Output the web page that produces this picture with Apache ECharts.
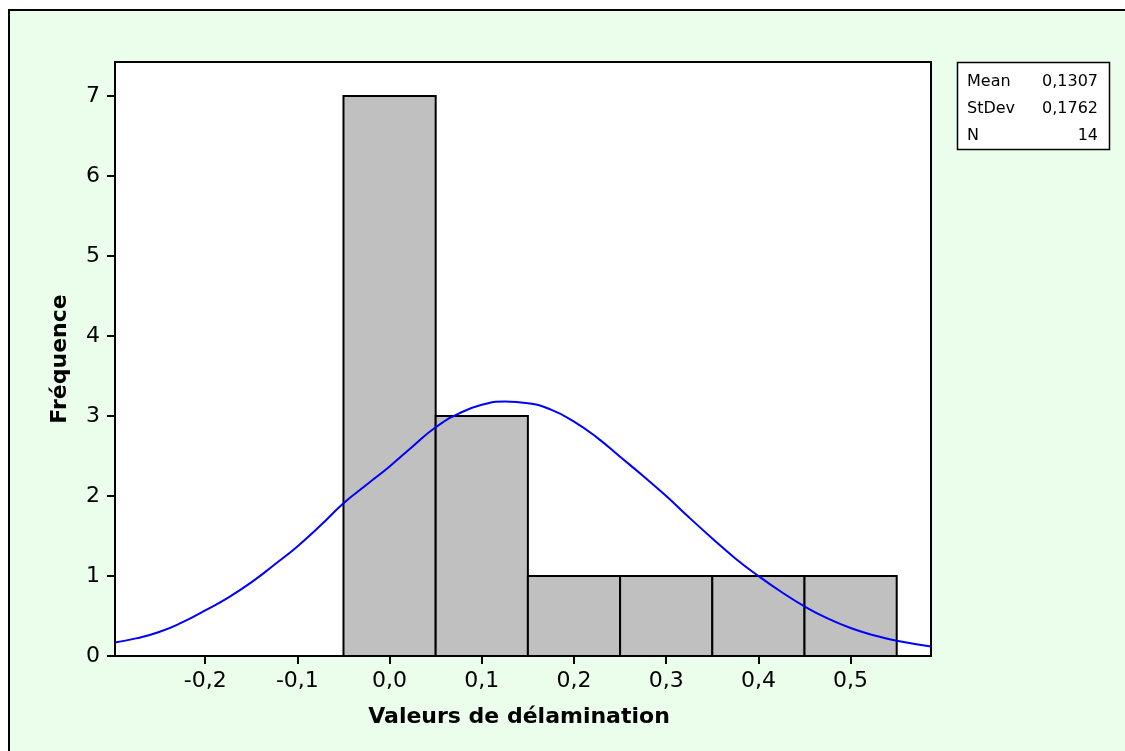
<!DOCTYPE html>
<html>
<head>
<meta charset="utf-8">
<script src="https://cdn.jsdelivr.net/npm/echarts@6/dist/echarts.min.js"></script>
<style>
html,body{margin:0;padding:0;background:#fff;}
#chart{width:1125px;height:751px;}
</style>
</head>
<body>
<div id="chart"></div>
<script>
// Histogram bins (start, end) and counts
const binStarts = [-0.05, 0.05, 0.15, 0.25, 0.35, 0.45];
const binEnds   = [ 0.05, 0.15, 0.25, 0.35, 0.45, 0.55];
const counts    = [7, 3, 1, 1, 1, 1];

// Fitted normal curve
const curveX = [-0.298, -0.275, -0.25, -0.225, -0.2, -0.175, -0.15, -0.125, -0.1, -0.075, -0.05, -0.025, 0, 0.025, 0.05, 0.075, 0.1, 0.125, 0.15, 0.175, 0.2, 0.225, 0.25, 0.275, 0.3, 0.325, 0.35, 0.375, 0.4, 0.425, 0.45, 0.475, 0.5, 0.525, 0.55, 0.587];
const curveY = [0.17, 0.22, 0.30, 0.42, 0.57, 0.73, 0.92, 1.14, 1.37, 1.63, 1.91, 2.14, 2.37, 2.62, 2.86, 3.03, 3.14, 3.18, 3.16, 3.08, 2.93, 2.73, 2.49, 2.25, 2.00, 1.73, 1.47, 1.22, 1.00, 0.80, 0.62, 0.47, 0.35, 0.26, 0.19, 0.12];

const xTicks = [-0.2, -0.1, 0, 0.1, 0.2, 0.3, 0.4, 0.5];
const yTicks = [0, 1, 2, 3, 4, 5, 6, 7];

const statLabels = ['Mean', 'StDev', 'N'];
const statValues = ['0,1307', '0,1762', '14'];

const FONT = 'DejaVu Sans';
const fmt = v => (Math.abs(v) < 1e-9 ? '0,0' : v.toFixed(1).replace('.', ','));

const chart = echarts.init(document.getElementById('chart'));

const graphics = [
  { type: 'rect', z: -10, shape: { x: 9, y: 10, width: 1130, height: 760 },
    style: { fill: '#EBFDEB', stroke: '#000', lineWidth: 2 } },
  { type: 'rect', z: 10, shape: { x: 957.5, y: 62.5, width: 152, height: 87 },
    style: { fill: '#fff', stroke: '#000', lineWidth: 1.5 } }
];
statLabels.forEach((l, i) => {
  graphics.push({ type: 'text', z: 11, x: 967, y: 82 + i * 27,
    style: { text: l, font: '16px ' + FONT, fill: '#000', textVerticalAlign: 'middle', textAlign: 'left' } });
  graphics.push({ type: 'text', z: 11, x: 1098, y: 82 + i * 27,
    style: { text: statValues[i], font: '16px ' + FONT, fill: '#000', textVerticalAlign: 'middle', textAlign: 'right' } });
});

const barData = binStarts.map((s, i) => [s, binEnds[i], counts[i]]);
const curveData = curveX.map((x, i) => [x, curveY[i]]);

chart.setOption({
  animation: false,
  graphic: graphics,
  grid: { left: 115, top: 62, width: 816, height: 594, show: true, backgroundColor: '#fff', borderColor: '#000', borderWidth: 2 },
  xAxis: {
    type: 'value', min: -0.2978, max: 0.5872,
    axisLine: { show: true, onZero: false, lineStyle: { color: '#000', width: 2 } },
    axisTick: { show: true, customValues: xTicks, length: 8, lineStyle: { color: '#000', width: 2 } },
    axisLabel: { customValues: xTicks, formatter: fmt, fontSize: 22, fontFamily: FONT, color: '#000', margin: 14 },
    splitLine: { show: false },
    name: 'Valeurs de délamination', nameLocation: 'middle', nameGap: 50,
    nameTextStyle: { fontSize: 22, fontWeight: 'bold', fontFamily: FONT, color: '#000', padding: [0, 8, 0, 0] }
  },
  yAxis: {
    type: 'value', min: 0, max: 7.425,
    axisLine: { show: true, onZero: false, lineStyle: { color: '#000', width: 2 } },
    axisTick: { show: true, customValues: yTicks, length: 8, lineStyle: { color: '#000', width: 2 } },
    axisLabel: { customValues: yTicks, fontSize: 22, fontFamily: FONT, color: '#000', margin: 15 },
    splitLine: { show: false },
    name: 'Fréquence', nameLocation: 'middle', nameGap: 44, nameRotate: 90,
    nameTextStyle: { fontSize: 22, fontWeight: 'bold', fontFamily: FONT, color: '#000' }
  },
  series: [
    {
      type: 'custom',
      data: barData,
      encode: { x: [0, 1], y: 2 },
      renderItem: (params, api) => {
        const p0 = api.coord([api.value(0), api.value(2)]);
        const p1 = api.coord([api.value(1), 0]);
        return { type: 'rect', shape: { x: p0[0], y: p0[1], width: p1[0] - p0[0], height: p1[1] - p0[1] },
          style: { fill: '#C0C0C0', stroke: '#000', lineWidth: 2 } };
      },
      z: 2
    },
    {
      type: 'line', data: curveData, smooth: true, showSymbol: false, clip: true,
      lineStyle: { color: '#0000FF', width: 2 }, z: 5
    }
  ]
});
</script>
</body>
</html>
